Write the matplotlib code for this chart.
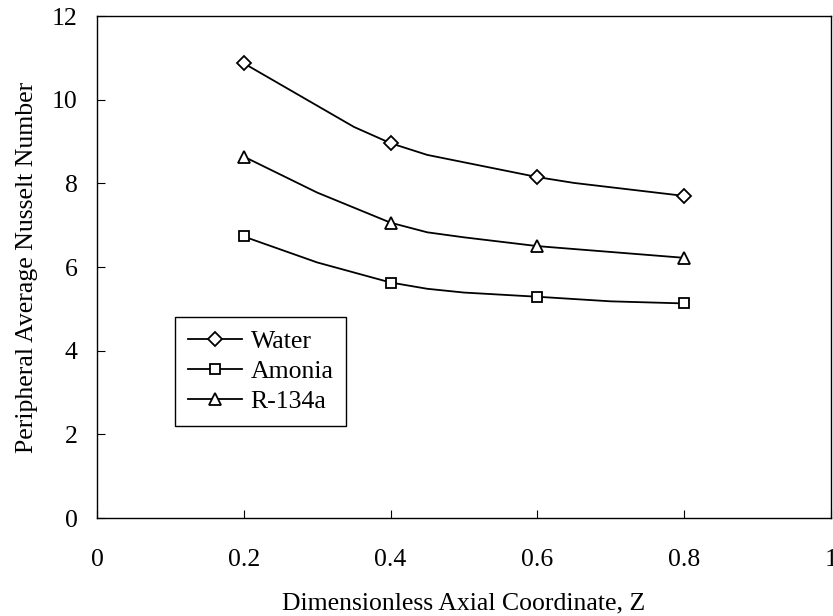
import numpy as np
import matplotlib
matplotlib.use("Agg")
import matplotlib.pyplot as plt


# Nusselt number along the duct, read at the computed axial stations
z_water  = [0.2, 0.35, 0.4, 0.45, 0.6, 0.65, 0.8]
nu_water = [10.87, 9.35, 8.96, 8.68, 8.15, 8.01, 7.70]

z_amonia  = [0.2, 0.3, 0.4, 0.45, 0.5, 0.6, 0.7, 0.8]
nu_amonia = [6.73, 6.11, 5.63, 5.48, 5.39, 5.29, 5.18, 5.13]

z_r134a  = [0.2, 0.3, 0.4, 0.45, 0.5, 0.6, 0.8]
nu_r134a = [8.64, 7.78, 7.06, 6.83, 6.71, 6.50, 6.22]

marker_z = [0.2, 0.4, 0.6, 0.8]

x_ticks = [0, 0.2, 0.4, 0.6, 0.8, 1]
x_tick_labels = ['0', '0.2', '0.4', '0.6', '0.8', '1']
y_ticks = [0, 2, 4, 6, 8, 10, 12]


def marks(z):
    return [i for i, v in enumerate(z) if any(abs(v - m) < 1e-9 for m in marker_z)]


plt.rcParams['font.family'] = ['Liberation Serif', 'DejaVu Serif']
plt.rcParams['font.size'] = 18.5

fig = plt.figure(figsize=(8.33, 6.16), dpi=100)
ax = fig.add_axes([0.1164, 0.159, 0.8812, 0.815])

series = [
    (z_water,  nu_water,  'D', 7.0, 'Water'),
    (z_amonia, nu_amonia, 's', 7.0, 'Amonia'),
    (z_r134a,  nu_r134a,  '^', 8.5, 'R-134a'),
]
for z, nu, m, ms, name in series:
    ax.plot(z, nu, color='black', lw=1.3, marker=m, ms=ms,
            mfc='white', mec='black', mew=1.3, markevery=marks(z), label=name)

ax.set_xlim(0, 1)
ax.set_ylim(0, 12)
ax.set_xticks(x_ticks)
ax.set_xticklabels(x_tick_labels)
ax.set_yticks(y_ticks)
ax.tick_params(direction='in', length=6, width=0.8, color='black')
ax.tick_params(axis='x', pad=22)
ax.tick_params(axis='y', pad=14)
for s in ax.spines.values():
    s.set_linewidth(1.0)

ax.set_xlabel('Dimensionless Axial Coordinate, Z', labelpad=16)
ax.set_ylabel('Peripheral Average Nusselt Number', labelpad=10)

leg = ax.legend(loc='upper left', bbox_to_anchor=(0.106, 0.400), borderaxespad=0,
                fancybox=False, edgecolor='black', framealpha=1, handlelength=2.1,
                handletextpad=0.35, labelspacing=0.28, borderpad=0.5)
leg.get_frame().set_linewidth(1.0)

fig.savefig('out.png', dpi=100)
